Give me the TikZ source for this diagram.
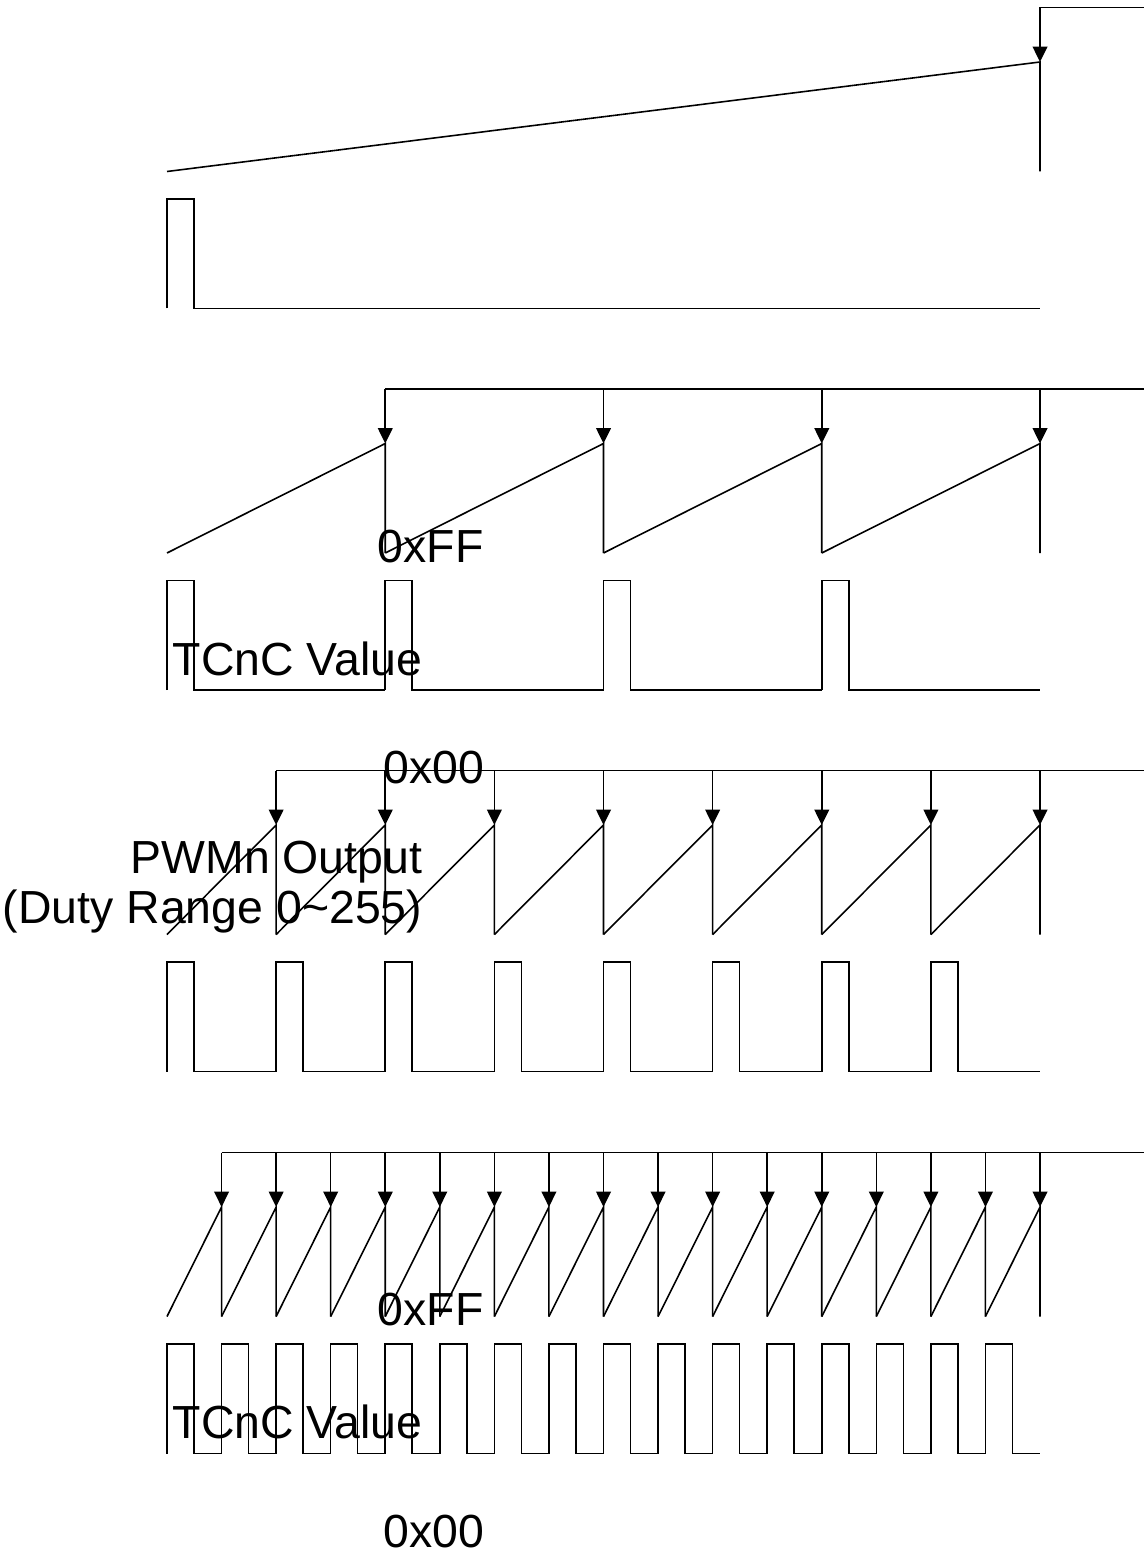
\documentclass[tikz,border=0pt]{standalone}
\usepackage{fontspec}
\setmainfont{Liberation Sans}
\usetikzlibrary{arrows.meta}

\begin{document}
\begin{tikzpicture}[x=0.01cm,y=-0.01cm,line width=0.45pt,
    >={Triangle[length=4.4pt,width=4.2pt]},
    lbl/.style={font=\fontsize{13.2}{14}\selectfont,inner sep=0pt}]
  \useasboundingbox (0,0) rectangle (1144,1555);
  \coordinate (start) at (167,0);
  \coordinate (stop) at (1040,0);
  % one block per clock rate: number of periods / top of the ramp
  \foreach \n/\y in {1/62,4/443.5,8/825,16/1207}{
    \pgfmathsetmacro{\T}{873/\n}
    \draw (167+\T,\y-54.5) -- (1144,\y-54.5);
    \foreach \k in {1,...,\n}{
      \draw[->] (167+\k*\T,\y-54.5) -- (167+\k*\T,\y);
      \draw (167+\k*\T-\T,\y+109.5) -- (167+\k*\T,\y) -- (167+\k*\T,\y+109.5);
      \draw (167+\k*\T-\T,\y+246.5) -- ++(0,-109.5) -- ++(27,0)
        -- ++(0,109.5) -- (167+\k*\T,\y+246.5);
    }
  }
  \node[lbl,anchor=base west] (ffA) at (377,562) {0xFF};
  \node[lbl,anchor=base west] (tcvA) at (172,675) {TCnC Value};
  \node[lbl,anchor=base west] (zeroA) at (383,783) {0x00};
  \node[lbl,anchor=base east,align=right] (pwm) at (423,923)
    {PWMn Output\\(Duty Range 0\textasciitilde255)};
  \node[lbl,anchor=base west] (ffB) at (377,1325) {0xFF};
  \node[lbl,anchor=base west] (tcvB) at (172,1438) {TCnC Value};
  \node[lbl,anchor=base west] (zeroB) at (383,1547) {0x00};
\end{tikzpicture}
\end{document}
